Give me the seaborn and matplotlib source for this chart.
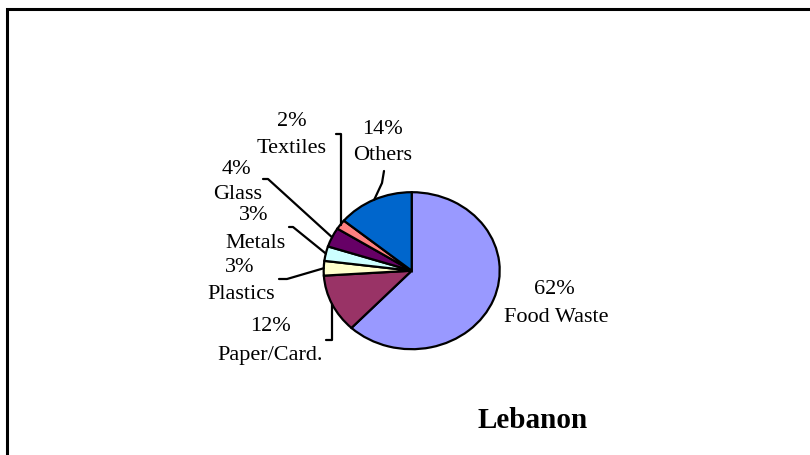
import numpy as np
import matplotlib
matplotlib.use("Agg")
import matplotlib.pyplot as plt
from matplotlib.lines import Line2D
from matplotlib.patches import Rectangle
import seaborn as sns

# Waste composition, Lebanon (% by weight), clockwise from 12 o'clock
categories = ["Food Waste", "Paper/Card.", "Plastics", "Metals", "Glass", "Textiles", "Others"]
shares = [62, 12, 3, 3, 4, 2, 14]
slice_colors = ["#9999FF", "#993366", "#FFFFCC", "#CCFFFF", "#660066", "#FF8080", "#0066CC"]
title = "Lebanon"

sns.set_theme(style="white")
plt.rcParams["font.family"] = ["Liberation Serif", "DejaVu Serif"]
plt.rcParams["text.color"] = "black"

W, H = 810, 456
fig = plt.figure(figsize=(W / 100, H / 100), dpi=100)
fig.patch.set_facecolor("white")


def fpx(x, y):
    """pixel position (from top-left) -> figure fraction"""
    return x / W, 1 - y / H


# pie sits in its own axes, stretched slightly wider than tall
cx, cy, rx, ry = 411.7, 271.7, 88, 78.5
ax = fig.add_axes([(cx - rx) / W, 1 - (cy + ry) / H, 2 * rx / W, 2 * ry / H])
wedges, _ = ax.pie(
    shares,
    colors=sns.color_palette(slice_colors),
    startangle=90,
    counterclock=False,
    wedgeprops=dict(edgecolor="black", linewidth=1.6),
)
for w in wedges:
    w.set_clip_on(False)
ax.set_aspect("auto")
ax.set_xlim(-1, 1)
ax.set_ylim(-1, 1)
ax.axis("off")

# label layout: (percent text pos, name text pos, leader elbow points)
layout = {
    "Food Waste": ((554, 289), (556, 317), None),
    "Paper/Card.": ((270, 327), (270, 356), "bracket_down"),
    "Plastics": ((240, 267), (241, 295), [(279, 280), (287, 280)]),
    "Metals": ((254, 216), (255, 243), [(289, 228), (293, 228)]),
    "Glass": ((236, 170), (238, 195), [(263, 180), (268, 180)]),
    "Textiles": ((292, 122), (292, 149), "bracket_up"),
    "Others": ((382, 129), (383, 155), [(384, 172), (382, 184)]),
}

fig.canvas.draw()
cum = np.cumsum([0] + shares)
total = float(sum(shares))
for i, (cat, val) in enumerate(zip(categories, shares)):
    pct_pos, name_pos, leader = layout[cat]
    fig.text(*fpx(*pct_pos), f"{val}%", ha="center", va="center", fontsize=16)
    fig.text(*fpx(*name_pos), cat, ha="center", va="center", fontsize=16)
    if leader is None:
        continue
    mid = np.deg2rad(90 - 360 * (cum[i] + cum[i + 1]) / 2 / total)
    ex, ey = ax.transData.transform((np.cos(mid), np.sin(mid)))
    ey = H - ey
    if leader == "bracket_down":
        pts = [(ex, ey), (ex, 341), (ex - 6, 341)]
    elif leader == "bracket_up":
        pts = [(ex, ey), (ex, 135), (ex - 5, 135)]
    else:
        pts = leader + [(ex, ey)]
    xs = [p[0] / W for p in pts]
    ys = [1 - p[1] / H for p in pts]
    fig.add_artist(Line2D(xs, ys, transform=fig.transFigure, color="black", linewidth=1.6))

fig.text(*fpx(533, 421), title, ha="center", va="center", fontsize=21, fontweight="bold")

# chart border
fig.add_artist(Rectangle(fpx(7, 462), 810 / W, 452 / H, transform=fig.transFigure,
                         fill=False, edgecolor="black", linewidth=2.2))

fig.savefig("out.png", dpi=100)
